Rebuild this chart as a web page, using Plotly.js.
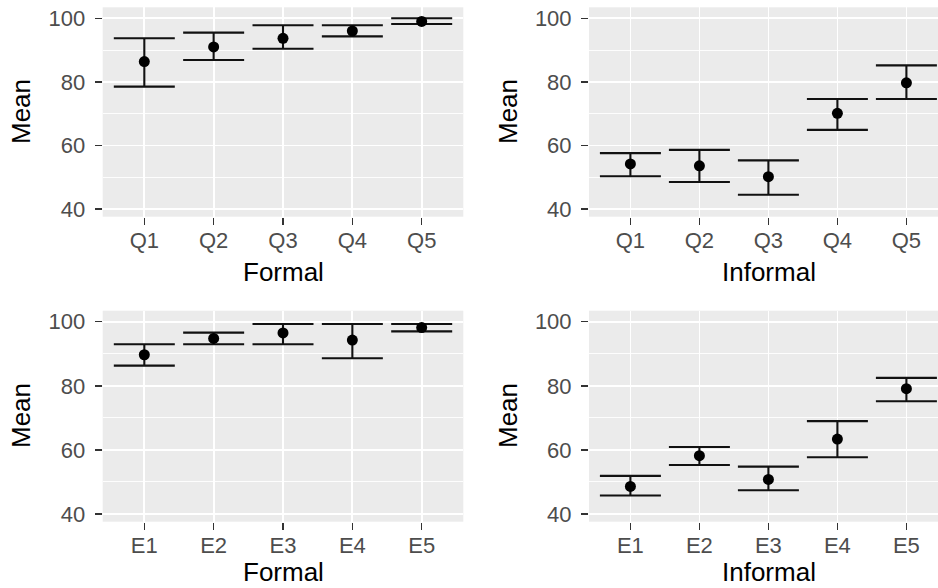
<!DOCTYPE html>
<html>
<head>
<meta charset="utf-8">
<script src="https://cdn.plot.ly/plotly-3.0.1.min.js"></script>
<style>
  html, body { margin: 0; padding: 0; background: #ffffff; }
  #chart { width: 938px; height: 588px; }
</style>
</head>
<body>
<div id="chart"></div>
<script>
// Quintile (Q) and education (E) groups
const quintiles = ["Q1", "Q2", "Q3", "Q4", "Q5"];
const eduLevels = ["E1", "E2", "E3", "E4", "E5"];

// Formal sector by quintile: mean with lower / upper interval bounds
const formalQMean  = [86.4, 91.0, 93.7, 96.0, 99.0];
const formalQLower = [78.5, 86.9, 90.4, 94.3, 98.2];
const formalQUpper = [93.7, 95.5, 97.8, 97.8, 100.0];

// Informal sector by quintile
const informalQMean  = [54.2, 53.6, 50.2, 70.1, 79.7];
const informalQLower = [50.3, 48.5, 44.5, 64.9, 74.6];
const informalQUpper = [57.6, 58.6, 55.3, 74.6, 85.2];

// Formal sector by education level
const formalEMean  = [89.7, 94.8, 96.5, 94.3, 98.2];
const formalELower = [86.3, 93.0, 93.0, 88.6, 97.0];
const formalEUpper = [93.0, 96.6, 99.3, 99.3, 99.3];

// Informal sector by education level
const informalEMean  = [48.6, 58.2, 50.8, 63.4, 79.1];
const informalELower = [45.8, 55.3, 47.4, 57.7, 75.2];
const informalEUpper = [51.9, 60.9, 54.8, 69.0, 82.5];

const yTicks = [40, 60, 80, 100];
const yMinorTicks = [50, 70, 90];

const W = 938, H = 588;
const px = v => v / W;            // horizontal pixel -> paper fraction
const py = v => 1 - v / H;        // vertical pixel (from top) -> paper fraction

function panel(cats, mean, lower, upper, xa, ya) {
  return {
    type: "scatter",
    mode: "markers",
    x: cats,
    y: mean,
    xaxis: xa,
    yaxis: ya,
    marker: { color: "#000000", size: 11 },
    error_y: {
      type: "data",
      symmetric: false,
      array: upper.map((u, i) => u - mean[i]),
      arrayminus: mean.map((m, i) => m - lower[i]),
      color: "#111111",
      thickness: 2.1,
      width: 30.5
    },
    hoverinfo: "x+y",
    showlegend: false
  };
}

const data = [
  panel(quintiles, formalQMean, formalQLower, formalQUpper, "x", "y"),
  panel(quintiles, informalQMean, informalQLower, informalQUpper, "x2", "y2"),
  panel(eduLevels, formalEMean, formalELower, formalEUpper, "x3", "y3"),
  panel(eduLevels, informalEMean, informalELower, informalEUpper, "x4", "y4")
];

const tickFont = { family: "Liberation Sans, Arial, sans-serif", size: 22, color: "#4D4D4D" };
const titleFont = { family: "Liberation Sans, Arial, sans-serif", size: 26, color: "#000000" };

function xAxis(domain, range, anchor) {
  return {
    type: "category",
    domain: domain,
    range: range,
    anchor: anchor,
    showgrid: true,
    gridcolor: "#ffffff",
    gridwidth: 1.8,
    zeroline: false,
    showline: false,
    ticks: "outside",
    ticklen: 7,
    tickwidth: 1.4,
    tickcolor: "#333333",
    tickfont: tickFont,
    ticklabelstandoff: -3,
    fixedrange: true
  };
}

function yAxis(domain, anchor) {
  return {
    domain: domain,
    range: [37.6, 103.45],
    anchor: anchor,
    tickmode: "array",
    tickvals: yTicks,
    ticktext: yTicks.map(String),
    showgrid: true,
    gridcolor: "#ffffff",
    gridwidth: 1.8,
    minor: {
      tickmode: "array",
      tickvals: yMinorTicks,
      showgrid: true,
      gridcolor: "#ffffff",
      gridwidth: 0.9,
      ticks: ""
    },
    zeroline: false,
    showline: false,
    ticks: "outside",
    ticklen: 7,
    tickwidth: 1.4,
    tickcolor: "#333333",
    tickfont: tickFont,
    ticklabelstandoff: 5,
    fixedrange: true
  };
}

const leftX = [px(102.7), px(463.3)];
const rightX = [px(589), 1];
const topY = [py(216.7), py(7.3)];
const bottomY = [py(521.7), py(310.7)];

function title(text, x, y, angle, anchor) {
  return {
    text: text,
    xref: "paper", yref: "paper",
    x: px(x), y: py(y),
    xanchor: "center", yanchor: anchor || "middle",
    showarrow: false,
    borderpad: 0,
    textangle: angle || 0,
    font: titleFont
  };
}

const layout = {
  width: W,
  height: H,
  margin: { l: 0, r: 0, t: 0, b: 0, pad: 0 },
  paper_bgcolor: "#ffffff",
  plot_bgcolor: "#EBEBEB",
  showlegend: false,
  xaxis:  xAxis(leftX,  [-0.6, 4.6],   "y"),
  yaxis:  yAxis(topY,    "x"),
  xaxis2: xAxis(rightX, [-0.6, 4.458], "y2"),
  yaxis2: yAxis(topY,    "x2"),
  xaxis3: xAxis(leftX,  [-0.6, 4.6],   "y3"),
  yaxis3: yAxis(bottomY, "x3"),
  xaxis4: xAxis(rightX, [-0.6, 4.458], "y4"),
  yaxis4: yAxis(bottomY, "x4"),
  annotations: [
    title("Formal", 283, 272),
    title("Informal", 768.8, 272),
    title("Formal", 283, 588, 0, "bottom"),
    title("Informal", 768.8, 588, 0, "bottom"),
    title("Mean", 21, 112, -90),
    title("Mean", 508, 112, -90),
    title("Mean", 21, 416, -90),
    title("Mean", 508, 416, -90)
  ]
};

Plotly.newPlot("chart", data, layout, { displayModeBar: false, staticPlot: true });
</script>
</body>
</html>
